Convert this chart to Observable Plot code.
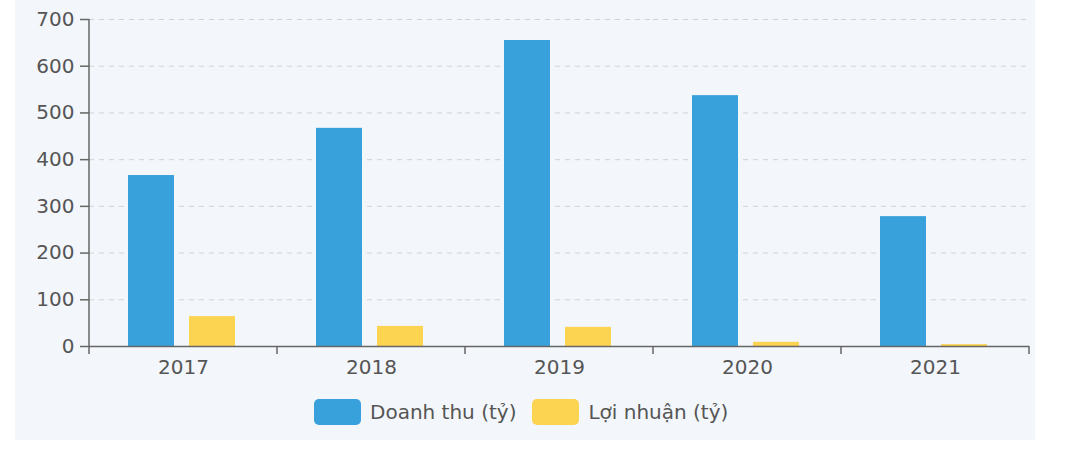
<!DOCTYPE html>
<html>
<head>
<meta charset="utf-8">
<script src="https://cdn.jsdelivr.net/npm/d3@7"></script>
<script src="https://cdn.jsdelivr.net/npm/@observablehq/plot@0.6"></script>
<style>
  body { margin: 0; background: #ffffff; width: 1080px; height: 460px; position: relative; overflow: hidden; font-family: "DejaVu Sans", sans-serif; }
  #panel { position: absolute; left: 15px; top: 0; width: 1020px; height: 440px; background: #f3f6fa; }
  #chart { position: absolute; left: 0; top: 0; }
  #legend { position: absolute; left: 314px; top: 399px; display: flex; align-items: center; font-size: 20px; color: #555; }
  .item { display: flex; align-items: center; margin-right: 16px; }
  .sw { width: 47px; height: 26px; border-radius: 5px; margin-right: 9px; }
</style>
</head>
<body>
<div id="panel"></div>
<div id="chart"></div>
<div id="legend"></div>
<script>
const years = ["2017", "2018", "2019", "2020", "2021"];
const series = ["Doanh thu (tỷ)", "Lợi nhuận (tỷ)"];
const revenue = [366, 467, 655, 537, 278];
const profit = [64, 43, 41, 9, 4];
const yTicks = [0, 100, 200, 300, 400, 500, 600, 700];
const colors = ["#38a1db", "#fdd352"];

const data = years.flatMap((y, i) => [
  {year: y, series: series[0], value: revenue[i]},
  {year: y, series: series[1], value: profit[i]}
]);

const chart = Plot.plot({
  width: 1080,
  height: 390,
  marginLeft: 88,
  marginRight: 50,
  marginTop: 19,
  marginBottom: 44,
  style: {background: "transparent", fontFamily: "'DejaVu Sans', sans-serif", fontSize: "20px", color: "#555"},
  fx: {domain: years, padding: 0, label: null},
  x: {domain: series, paddingInner: 0.25, paddingOuter: 0.66, align: 0.48, axis: null},
  y: {domain: [0, 700], label: null},
  color: {domain: series, range: colors},
  marks: [
    Plot.gridY(yTicks, {stroke: "#cfd3d9", strokeOpacity: 1, strokeDasharray: "5,5"}),
    Plot.barY(data, {fx: "year", x: "series", y: "value", fill: "series"}),
    Plot.ruleY([0], {stroke: "#666", strokeWidth: 1.5}),
    Plot.axisY(yTicks, {tickSize: 9, tickPadding: 6, stroke: "#666", strokeWidth: 1.5, fill: "#555", label: null}),
    Plot.axisFx({anchor: "bottom", tickSize: 0, tickPadding: 13, fill: "#555", label: null})
  ]
});
document.getElementById("chart").appendChild(chart);

// axis line and boundary ticks from the library's scales
const fx = chart.scale("fx");
const y = chart.scale("y");
const svg = d3.select(chart);
const y0 = y.apply(0), yTop = y.apply(700);
const left = fx.apply(years[0]);
svg.append("line").attr("x1", left).attr("x2", left).attr("y1", yTop).attr("y2", y0)
  .attr("stroke", "#666").attr("stroke-width", 1.5);
const bounds = years.map(d => fx.apply(d)).concat([fx.apply(years[years.length - 1]) + fx.bandwidth]);
svg.selectAll(".xb").data(bounds).join("line")
  .attr("x1", d => d).attr("x2", d => d).attr("y1", y0).attr("y2", y0 + 8)
  .attr("stroke", "#666").attr("stroke-width", 1.5);

// legend
const legend = d3.select("#legend");
series.forEach((s, i) => {
  const it = legend.append("div").attr("class", "item");
  it.append("div").attr("class", "sw").style("background", colors[i]);
  it.append("span").text(s);
});
</script>
</body>
</html>
